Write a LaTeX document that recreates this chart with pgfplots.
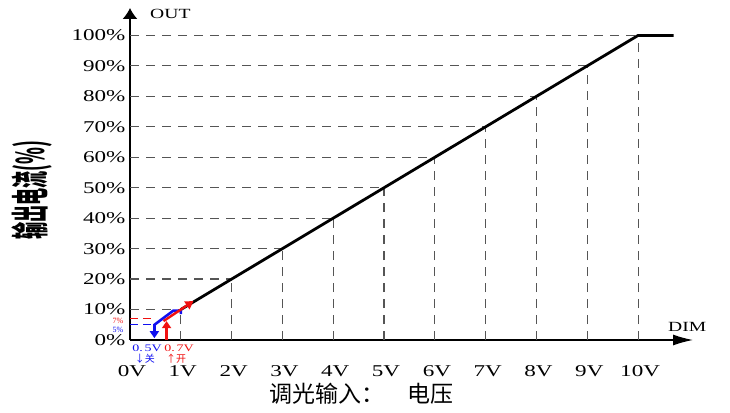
\documentclass[border=0pt]{standalone}
\usepackage{fontspec}
\setmainfont{Liberation Serif}
\newfontfamily\wide[FakeStretch=1.4]{Liberation Serif}
\newfontfamily\cjk{Noto Sans CJK SC}
\usepackage{graphicx}
\usepackage{pgfplots}
\pgfplotsset{compat=1.18}
\usetikzlibrary{arrows.meta}
\definecolor{dgray}{HTML}{555555}
\definecolor{myblue}{HTML}{1010F0}
\definecolor{myred}{HTML}{F01010}
\begin{document}
\begin{tikzpicture}
\begin{axis}[
  at={(0,0)}, anchor=south west,
  scale only axis, width=563pt, height=332pt,
  xmin=0, xmax=11.08, ymin=0, ymax=109,
  axis lines=left,
  axis line style={line width=1.3pt},
  x axis line style={-{Latex[length=20pt,width=11pt]}},
  y axis line style={-{Latex[length=11pt,width=15pt]}},
  xtick={0,1,2,3,4,5,6,7,8,9,10},
  xticklabels={0V,1V,2V,3V,4V,5V,6V,7V,8V,9V,10V},
  ytick={0,10,20,30,40,50,60,70,80,90,100},
  yticklabels={0\%,10\%,20\%,30\%,40\%,50\%,60\%,70\%,80\%,90\%,100\%},
  major tick length=0pt,
  tick label style={font=\wide\fontsize{16.5}{16.5}\selectfont},
  xticklabel style={yshift=-22pt, xshift=2pt},
  yticklabel style={xshift=-1pt},
  clip=false,
]
% dashed guides
\pgfplotsinvokeforeach{1,...,10}{
  \addplot[dgray, line width=1.2pt, dash pattern=on 9pt off 7pt] coordinates {(0,#1*10) (#1,#1*10)};
  \addplot[dgray, line width=1.2pt, dash pattern=on 9pt off 7pt] coordinates {(#1,0) (#1,#1*10)};
}
\addplot[myred, line width=1pt, dash pattern=on 8pt off 5pt] coordinates {(0,7) (0.5,7)};
\addplot[myblue, line width=1pt, dash pattern=on 8pt off 5pt] coordinates {(0,5) (0.45,5)};
% main curve
\addplot[black, line width=2.8pt] coordinates {(1,10) (10,100) (10.7,100)};
% blue (off) path
\addplot[myblue, line width=2.6pt] coordinates {(1.0,8.5) (1.0,9.6) (0.85,9.6) (0.48,5)};
\addplot[myblue, line width=2.6pt, -{Triangle[length=7pt,width=9pt]}] coordinates {(0.48,5.2) (0.48,0.6)};
% red (on) path
\addplot[myred, line width=2.6pt, -{Triangle[length=7pt,width=9pt]}] coordinates {(0.72,0) (0.72,6.2)};
\addplot[myred, line width=2.4pt, -{Triangle[length=8pt,width=9pt]}] coordinates {(0.66,6.2) (1.25,12.8)};
\end{axis}
% texts
\node[anchor=west, inner sep=0] at (20pt,326pt) {\wide\fontsize{14}{14}\selectfont OUT};
\node[anchor=west, inner sep=0] at (538pt,13pt) {\wide\fontsize{14}{14}\selectfont DIM};
\node[inner sep=0, text=myred] at (-12pt,19pt) {\fontsize{8}{8}\selectfont 7\%};
\node[inner sep=0, text=myblue] at (-12pt,10.5pt) {\fontsize{8}{8}\selectfont 5\%};
\node[inner sep=0, text=myblue] at (17pt,-8pt) {\wide\fontsize{10}{10}\selectfont 0.\,5V};
\node[inner sep=0, text=myred] at (49pt,-8pt) {\wide\fontsize{10}{10}\selectfont 0.\,7V};
\node[inner sep=0, text=myblue] at (15pt,-19pt) {\cjk\fontsize{10}{10}\selectfont ↓关};
\node[inner sep=0, text=myred] at (46pt,-19pt) {\cjk\fontsize{10}{10}\selectfont ↑开};
\node[inner sep=0] at (231pt,-54pt) {\cjk\fontsize{23}{23}\selectfont 调光输入：　电压};
\node[inner sep=0, rotate=90] at (-98pt,150pt) {\scalebox{0.45}[1]{\cjk\bfseries\fontsize{38}{38}\selectfont 输出电流(\%)}};
\pgfresetboundingbox
\path (-130pt,-72pt) rectangle (600pt,340pt);
\end{tikzpicture}
\end{document}
